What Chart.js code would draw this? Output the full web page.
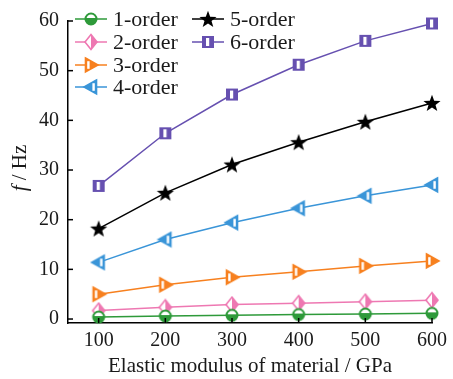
<!DOCTYPE html>
<html>
<head>
<meta charset="utf-8">
<script src="https://cdn.jsdelivr.net/npm/chart.js@4.4.0/dist/chart.umd.min.js"></script>
<style>
  html, body { margin: 0; padding: 0; background: #fff; }
  #wrap { width: 453px; height: 379px; }
</style>
</head>
<body>
<div id="wrap"><canvas id="chart" width="453" height="379"></canvas></div>
<script>
// data
const modulus = [100, 200, 300, 400, 500, 600];
const order1 = [0.4, 0.6, 0.75, 0.9, 1.0, 1.15];
const order2 = [1.7, 2.35, 2.9, 3.2, 3.5, 3.8];
const order3 = [5.0, 6.9, 8.4, 9.5, 10.7, 11.7];
const order4 = [11.4, 16.0, 19.4, 22.3, 24.8, 27.0];
const order5 = [18.2, 25.4, 31.1, 35.6, 39.7, 43.5];
const order6 = [26.8, 37.4, 45.2, 51.2, 56.0, 59.5];
const xTicks = [100, 200, 300, 400, 500, 600];
const yTicks = [0, 10, 20, 30, 40, 50, 60];

const serif = "'Liberation Serif', 'DejaVu Serif', serif";

// marker pictures
function marker(size, draw) {
    const c = document.createElement('canvas');
    c.width = size; c.height = size;
    const g = c.getContext('2d');
    draw(g, size / 2);
    return c;
}

const mkCircle = marker(16, (g, m) => {
    g.lineWidth = 2; g.strokeStyle = '#2e9a3a';
    g.fillStyle = '#fff';
    g.beginPath(); g.arc(m, m, 5.5, 0, Math.PI * 2); g.fill();
    g.fillStyle = '#2e9a3a';
    g.beginPath(); g.arc(m, m, 5.5, -0.2, Math.PI + 0.2); g.fill();
    g.beginPath(); g.arc(m, m, 5.5, 0, Math.PI * 2); g.stroke();
});
const mkDiamond = marker(18, (g, m) => {
    g.lineWidth = 1.6; g.strokeStyle = '#ee78b2';
    g.fillStyle = '#fff';
    g.beginPath(); g.moveTo(m, m - 7.5); g.lineTo(m + 6, m); g.lineTo(m, m + 7.5); g.lineTo(m - 6, m); g.closePath(); g.fill();
    g.fillStyle = '#ee78b2';
    g.beginPath(); g.moveTo(m, m - 7.5); g.lineTo(m + 6, m); g.lineTo(m, m + 7.5); g.closePath(); g.fill();
    g.beginPath(); g.moveTo(m, m - 7.5); g.lineTo(m + 6, m); g.lineTo(m, m + 7.5); g.lineTo(m - 6, m); g.closePath(); g.stroke();
});
const mkRight = marker(18, (g, m) => {
    g.lineWidth = 1.6; g.strokeStyle = '#f7801f';
    g.fillStyle = '#f7801f';
    g.beginPath(); g.moveTo(m - 5.5, m - 7); g.lineTo(m + 7, m); g.lineTo(m - 5.5, m + 7); g.closePath(); g.fill(); g.stroke();
    g.fillStyle = '#fff';
    g.fillRect(m - 3.8, m - 3.8, 2.4, 7.6);
});
const mkLeft = marker(18, (g, m) => {
    g.lineWidth = 1.6; g.strokeStyle = '#3a95d8';
    g.fillStyle = '#3a95d8';
    g.beginPath(); g.moveTo(m + 5.5, m - 7); g.lineTo(m - 7, m); g.lineTo(m + 5.5, m + 7); g.closePath(); g.fill(); g.stroke();
    g.fillStyle = '#fff';
    g.fillRect(m + 1.4, m - 3.8, 2.4, 7.6);
});
const mkStar = marker(20, (g, m) => {
    g.fillStyle = '#000';
    g.beginPath();
    for (let i = 0; i < 10; i++) {
        const r = i % 2 === 0 ? 9 : 3.7;
        const a = -Math.PI / 2 + i * Math.PI / 5;
        g.lineTo(m + r * Math.cos(a), m + r * Math.sin(a) + 0.8);
    }
    g.closePath(); g.fill();
});
const mkSquare = marker(16, (g, m) => {
    g.fillStyle = '#6650b0';
    g.fillRect(m - 6, m - 6, 12, 12);
    g.fillStyle = '#fff';
    g.fillRect(m - 2, m - 4, 3.2, 8);
});

const series = [
    { label: '1-order', data: order1, color: '#2e9a3a', img: mkCircle },
    { label: '2-order', data: order2, color: '#ee78b2', img: mkDiamond },
    { label: '3-order', data: order3, color: '#f7801f', img: mkRight },
    { label: '4-order', data: order4, color: '#3a95d8', img: mkLeft },
    { label: '5-order', data: order5, color: '#000000', img: mkStar },
    { label: '6-order', data: order6, color: '#6650b0', img: mkSquare }
];

// inside ticks, axis titles and legend
const decorPlugin = {
    id: 'decor',
    afterDraw(chart) {
        const ctx = chart.ctx;
        const xs = chart.scales.x, ys = chart.scales.y;
        const area = chart.chartArea;
        ctx.save();
        ctx.strokeStyle = '#000';
        ctx.lineWidth = 1.5;
        xTicks.forEach(v => {
            const px = xs.getPixelForValue(v);
            ctx.beginPath(); ctx.moveTo(px, area.bottom); ctx.lineTo(px, area.bottom - 5); ctx.stroke();
        });
        yTicks.forEach(v => {
            const py = ys.getPixelForValue(v);
            ctx.beginPath(); ctx.moveTo(area.left, py); ctx.lineTo(area.left + 5, py); ctx.stroke();
        });

        // x title
        ctx.fillStyle = '#1a1a1a';
        ctx.font = '21px ' + serif;
        ctx.textAlign = 'center';
        ctx.textBaseline = 'middle';
        ctx.fillText('Elastic modulus of material / GPa', (area.left + area.right) / 2, 366);

        // y title with italic f
        ctx.save();
        ctx.translate(20, 168);
        ctx.rotate(-Math.PI / 2);
        ctx.font = 'italic 21px ' + serif;
        const fw = ctx.measureText('f').width;
        ctx.font = '21px ' + serif;
        const rw = ctx.measureText(' / Hz').width;
        const start = -(fw + rw) / 2;
        ctx.textAlign = 'left';
        ctx.font = 'italic 21px ' + serif;
        ctx.fillText('f', start, 0);
        ctx.font = '21px ' + serif;
        ctx.fillText(' / Hz', start + fw, 0);
        ctx.restore();

        // legend in two columns
        const slots = [
            [75, 19], [75, 42], [75, 65], [75, 87],
            [192, 19], [192, 42]
        ];
        ctx.font = '22px ' + serif;
        ctx.textAlign = 'left';
        series.forEach((s, i) => {
            const [lx, ly] = slots[i];
            ctx.strokeStyle = s.color;
            ctx.lineWidth = 1.5;
            ctx.beginPath(); ctx.moveTo(lx, ly); ctx.lineTo(lx + 32, ly); ctx.stroke();
            ctx.drawImage(s.img, lx + 16 - s.img.width / 2, ly - s.img.height / 2);
            ctx.fillStyle = '#1a1a1a';
            ctx.fillText(s.label, lx + 38, ly + 1);
        });
        ctx.restore();
    }
};

new Chart(document.getElementById('chart'), {
    type: 'line',
    data: {
        datasets: series.map(s => ({
            label: s.label,
            data: modulus.map((x, i) => ({ x: x, y: s.data[i] })),
            borderColor: s.color,
            backgroundColor: s.color,
            borderWidth: 1.5,
            pointStyle: s.img,
            pointRadius: 6,
            tension: 0,
            clip: false
        }))
    },
    options: {
        responsive: false,
        animation: false,
        devicePixelRatio: 1,
        layout: { autoPadding: false, padding: { left: 0, right: 15, top: 12, bottom: 0 } },
        plugins: {
            legend: { display: false },
            tooltip: { enabled: false }
        },
        scales: {
            x: {
                type: 'linear',
                min: 54,
                max: 600,
                afterBuildTicks: scale => { scale.ticks = xTicks.map(v => ({ value: v })); },
                afterFit: scale => { scale.height = 56; },
                grid: { display: false, drawTicks: false },
                border: { display: true, color: '#000', width: 1.5 },
                ticks: { color: '#1a1a1a', font: { family: serif, size: 20 }, padding: 6, maxRotation: 0 }
            },
            y: {
                min: -0.8,
                max: 60,
                afterBuildTicks: scale => { scale.ticks = yTicks.map(v => ({ value: v })); },
                afterFit: scale => { scale.width = 68; },
                grid: { display: false, drawTicks: false },
                border: { display: true, color: '#000', width: 1.5 },
                ticks: { color: '#1a1a1a', font: { family: serif, size: 20 }, padding: 9 }
            }
        }
    },
    plugins: [decorPlugin]
});
</script>
</body>
</html>
